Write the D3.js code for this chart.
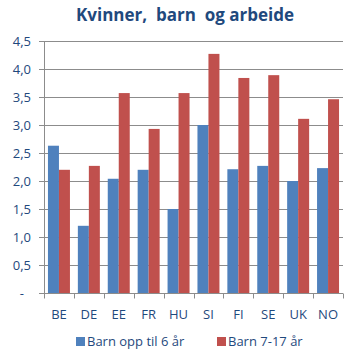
<!DOCTYPE html>
<html><head><meta charset="utf-8">
<script src="https://cdn.jsdelivr.net/npm/d3@7/dist/d3.min.js"></script>
<style>body{margin:0;background:#fff;}svg{display:block;font-family:"Open Sans","DejaVu Sans",sans-serif;}</style>
</head><body>
<script>
const categories = ["BE","DE","EE","FR","HU","SI","FI","SE","UK","NO"];
const seriesNames = ["Barn opp til 6 år","Barn 7-17 år"];
const youngKids = [2.63,1.20,2.04,2.20,1.50,3.00,2.21,2.27,2.00,2.23];
const olderKids = [2.20,2.27,3.57,2.93,3.57,4.27,3.84,3.89,3.11,3.46];
const yTicks = [0,0.5,1,1.5,2,2.5,3,3.5,4,4.5];
const colors = ["#4F81BD","#C0504D"];

const W=355,H=357;
const m={left:44,right:12,top:41,bottom:64};
const svg=d3.select("body").append("svg").attr("width",W).attr("height",H);
const x=d3.scaleBand().domain(categories).range([m.left,W-m.right]).paddingInner(0).paddingOuter(0);
const x1=d3.scaleBand().domain([0,1]).range([0,x.bandwidth()]).paddingInner(0).paddingOuter(0.36);
const y=d3.scaleLinear().domain([0,4.5]).range([H-m.bottom,m.top]);

svg.append("text").attr("x",185).attr("y",21).attr("text-anchor","middle").style("white-space","pre")
  .attr("font-size",17).attr("font-weight","bold").attr("fill","#1F497D").text("Kvinner,  barn  og arbeide");

// grid
const fmt=d=>d===0?"-":d3.format(".1f")(d).replace(".",",");
svg.append("g").selectAll("line").data(yTicks.filter(d=>d>0)).join("line")
  .attr("x1",m.left-5).attr("x2",W-m.right).attr("y1",d=>Math.round(y(d))+0.5).attr("y2",d=>Math.round(y(d))+0.5)
  .attr("stroke","#8C8C8C").attr("stroke-width",1);
svg.append("g").selectAll("text").data(yTicks).join("text")
  .attr("x",d=>d===0?24:31).attr("y",d=>y(d)+4.5).attr("text-anchor","end")
  .attr("font-size",13).attr("fill","#1F497D").text(fmt);

const data=categories.map((c,i)=>({c,v:[youngKids[i],olderKids[i]]}));
const g=svg.append("g").selectAll("g").data(data).join("g").attr("transform",d=>`translate(${x(d.c)},0)`);
g.selectAll("rect").data(d=>d.v.map((v,k)=>({v,k}))).join("rect")
  .attr("x",d=>x1(d.k)).attr("width",x1.bandwidth())
  .attr("y",d=>y(d.v)).attr("height",d=>y(0)-y(d.v)).attr("fill",d=>colors[d.k]);

// axes lines
const y0=Math.round(y(0))+0.5;
svg.append("line").attr("x1",m.left-5).attr("x2",W-m.right).attr("y1",y0).attr("y2",y0).attr("stroke","#8C8C8C");
svg.append("line").attr("x1",m.left+0.5).attr("x2",m.left+0.5).attr("y1",y(4.5)).attr("y2",y0).attr("stroke","#8C8C8C");
const bounds=categories.map(c=>x(c)).concat([W-m.right]);
svg.append("g").selectAll("line").data(bounds).join("line")
  .attr("x1",d=>Math.round(d)+0.5).attr("x2",d=>Math.round(d)+0.5).attr("y1",y0).attr("y2",y0+5).attr("stroke","#8C8C8C");
svg.append("g").selectAll("text").data(categories).join("text")
  .attr("x",d=>x(d)+x.bandwidth()/2).attr("y",y0+25).attr("text-anchor","middle")
  .attr("font-size",13).attr("fill","#1F497D").text(d=>d);

// legend
const leg=svg.append("g");
const lx=[76,217];
seriesNames.forEach((s,i)=>{
  leg.append("rect").attr("x",lx[i]).attr("y",337).attr("width",9).attr("height",9).attr("fill",colors[i]);
  leg.append("text").attr("x",lx[i]+11).attr("y",346).attr("font-size",13).attr("fill","#1F497D").text(s);
});
</script>
</body></html>
